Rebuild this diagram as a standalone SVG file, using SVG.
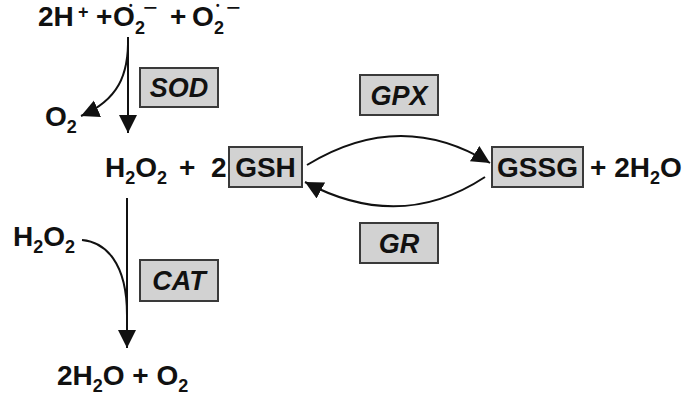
<svg xmlns="http://www.w3.org/2000/svg" width="683" height="398" viewBox="0 0 683 398">
<style>
text{font-family:"Liberation Sans",Arial,sans-serif;font-weight:bold;fill:#111;}
.m{font-size:28px;}
.s{font-size:18px;}
.e{font-size:27px;font-style:italic;text-anchor:middle;}
.c{text-anchor:middle;}
.box{fill:#d2d2d2;stroke:#3a3a3a;stroke-width:2;}
.ln{fill:none;stroke:#111;stroke-width:2;}
.mi{font-size:16px;}
.dt{font-size:10px;}
</style>
<defs>
<marker id="ah" markerUnits="userSpaceOnUse" markerWidth="20" markerHeight="20" refX="18" refY="9" orient="auto">
<path d="M0,0 L18,9 L0,18 z" fill="#111"/>
</marker>
</defs>
<rect width="683" height="398" fill="#fff"/>
<g id="top-reactants">
<text class="m" x="38" y="26">2H</text>
<text class="s" x="78" y="18">+</text>
<text class="m" x="96" y="26">+</text>
<text class="m" x="113" y="26">O</text>
<text class="s" x="135" y="34">2</text>
<text class="dt" x="129" y="9">•</text>
<text class="mi" x="143" y="13" textLength="14" lengthAdjust="spacingAndGlyphs">−</text>
<text class="m" x="170" y="26">+</text>
<text class="m" x="192" y="26">O</text>
<text class="s" x="214" y="34">2</text>
<text class="dt" x="216" y="9">•</text>
<text class="mi" x="226" y="13" textLength="14" lengthAdjust="spacingAndGlyphs">−</text>
</g>
<g id="SOD"><rect class="box" x="140" y="68" width="78" height="39"/><text class="e" x="179" y="97">SOD</text></g>
<g id="O2-left"><text class="m" x="45" y="126">O<tspan class="s" dy="7">2</tspan></text></g>
<g id="H2O2-GSH">
<text class="m" x="105" y="177">H<tspan class="s" dy="7">2</tspan><tspan dy="-7">O</tspan><tspan class="s" dy="7">2</tspan></text>
<text class="m" x="179" y="177">+</text>
<text class="m" x="211" y="177">2</text>
</g>
<g id="GSH"><rect class="box" x="229" y="147" width="73" height="40"/><text class="m c" x="265.5" y="177">GSH</text></g>
<g id="GPX"><rect class="box" x="360" y="75" width="78" height="40"/><text class="e" x="399" y="105">GPX</text></g>
<g id="GR"><rect class="box" x="360" y="223" width="78" height="40"/><text class="e" x="399" y="253">GR</text></g>
<g id="GSSG"><rect class="box" x="492" y="147" width="91" height="40"/><text class="m c" x="537.5" y="177">GSSG</text></g>
<g id="H2O-right"><text class="m" x="590" y="177">+ 2H<tspan class="s" dy="7">2</tspan><tspan dy="-7">O</tspan></text></g>
<g id="H2O2-left"><text class="m" x="13" y="246">H<tspan class="s" dy="7">2</tspan><tspan dy="-7">O</tspan><tspan class="s" dy="7">2</tspan></text></g>
<g id="CAT"><rect class="box" x="140" y="260" width="78" height="41"/><text class="e" x="179" y="290">CAT</text></g>
<g id="products"><text class="m" x="57" y="385">2H<tspan class="s" dy="7">2</tspan><tspan dy="-7">O + O</tspan><tspan class="s" dy="7">2</tspan></text></g>
<g id="connectors">
<path class="ln" d="M128,37 L128,133" marker-end="url(#ah)"/>
<path class="ln" d="M128,37 C129,75 118,100 81,116" marker-end="url(#ah)"/>
<path class="ln" d="M127,198 L127,348" marker-end="url(#ah)"/>
<path class="ln" d="M82,240 C105,242 127,262 127,315"/>
<path class="ln" d="M307,165 Q400,108 490,163" marker-end="url(#ah)"/>
<path class="ln" d="M485,177 Q400,233 305,182" marker-end="url(#ah)"/>
</g>
</svg>
